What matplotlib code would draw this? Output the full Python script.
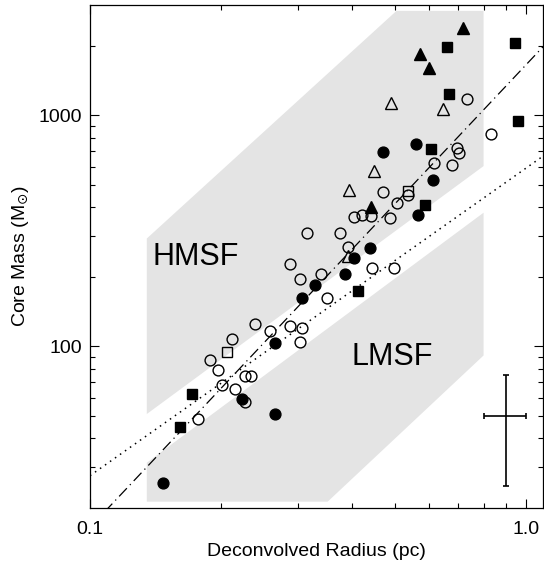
import matplotlib
matplotlib.use("Agg")
import matplotlib.pyplot as plt
from matplotlib.patches import Polygon
from matplotlib.ticker import FixedLocator, NullFormatter
import numpy as np

plt.rcParams['font.family'] = ['Liberation Sans', 'DejaVu Sans']

# core radius (pc) and mass (Msun), one pair of lists per marker style
filled_circle_r = [0.470, 0.561, 0.611, 0.567, 0.438, 0.404, 0.385, 0.328, 0.307,
                   0.266, 0.223, 0.266, 0.147]
filled_circle_m = [694, 749, 525, 369, 267, 242, 205, 184, 162, 103, 59.5, 51.1, 25.7]

filled_square_r = [0.661, 0.942, 0.665, 0.957, 0.605, 0.586, 0.411, 0.1715, 0.161]
filled_square_m = [1983, 2064, 1233, 945, 713, 411, 173, 62.4, 44.7]

filled_tri_r = [0.7185, 0.573, 0.600, 0.441]
filled_tri_m = [2397, 1837, 1598, 401]

open_tri_r = [0.4915, 0.6455, 0.449, 0.392, 0.390]
open_tri_m = [1135, 1069, 574, 474, 246]

open_square_r = [0.536, 0.2067]
open_square_m = [469, 94.5]

open_circle_r = [0.731, 0.832, 0.697, 0.7035, 0.616, 0.678, 0.471, 0.536, 0.505,
                 0.404, 0.421, 0.442, 0.488, 0.3145, 0.374, 0.390, 0.288, 0.443,
                 0.499, 0.339, 0.304, 0.349, 0.239, 0.259, 0.287, 0.307, 0.303,
                 0.2114, 0.1886, 0.1964, 0.2264, 0.2346, 0.201, 0.215, 0.227, 0.1765]
open_circle_m = [1181, 828, 725, 685, 620, 607, 467, 450, 416,
                 362, 372, 366, 359, 311, 309, 269, 227, 219,
                 218, 205, 196, 162, 124.5, 117, 123, 120, 105,
                 108, 87, 79.3, 74.2, 74.2, 68.3, 65.6, 57.4, 48.6]

# shaded regions (r, M)
hmsf_r = [0.135, 0.135, 0.505, 0.80, 0.80]
hmsf_m = [51, 293, 2830, 2830, 603]
lmsf_r = [0.135, 0.135, 0.351, 0.80, 0.80]
lmsf_m = [31.4, 21.3, 21.3, 91.4, 379]

# threshold lines: M = a * r**b
kp_a, kp_b = 590, 1.33       # dotted
sd_a, sd_b = 1650, 2.0       # dash-dot

# typical uncertainty
err_r, err_m = 0.9, 50
err_dr, err_dm = 0.1, 25

fig = plt.figure(figsize=(5.44, 5.63), dpi=100)
ax = fig.add_axes([90 / 544, 1 - 508 / 563, 453 / 544, 503 / 563])
ax.set_xscale('log')
ax.set_yscale('log')
ax.set_xlim(0.1, 1.095)
ax.set_ylim(20, 3000)

gray = '#e4e4e4'
ax.add_patch(Polygon(list(zip(hmsf_r, hmsf_m)), closed=True, fc=gray, ec='none', zorder=0))
ax.add_patch(Polygon(list(zip(lmsf_r, lmsf_m)), closed=True, fc=gray, ec='none', zorder=0))

rr = np.logspace(-1, np.log10(1.1), 200)
ax.plot(rr, kp_a * rr ** kp_b, color='k', lw=1.1, ls=(0, (1, 3)), zorder=1)
ax.plot(rr, sd_a * rr ** sd_b, color='k', lw=0.9, ls=(0, (9, 3.5, 1, 3.5)), zorder=1)

ms, mew = 7.8, 1.0
ax.plot(open_circle_r, open_circle_m, 'o', ms=ms, mfc='none', mec='k', mew=mew, zorder=3)
ax.plot(open_square_r, open_square_m, 's', ms=ms - 0.6, mfc='none', mec='k', mew=mew, zorder=3)
ax.plot(open_tri_r, open_tri_m, '^', ms=ms + 0.8, mfc='none', mec='k', mew=mew, zorder=3)
ax.plot(filled_circle_r, filled_circle_m, 'o', ms=ms, color='k', zorder=3)
ax.plot(filled_square_r, filled_square_m, 's', ms=ms - 0.6, color='k', zorder=3)
ax.plot(filled_tri_r, filled_tri_m, '^', ms=ms + 0.8, color='k', zorder=3)

ax.errorbar([err_r], [err_m], xerr=[err_dr], yerr=[err_dm], fmt='none',
            ecolor='k', elinewidth=1.2, capsize=2, capthick=1.2, zorder=3)

ax.text(0.1747, 244, 'HMSF', fontsize=22, ha='center', va='center', zorder=4)
ax.text(0.4928, 90, 'LMSF', fontsize=22, ha='center', va='center', zorder=4)

ax.xaxis.set_major_locator(FixedLocator([0.1, 1.0]))
ax.xaxis.set_minor_locator(FixedLocator([0.2, 0.3, 0.4, 0.5, 0.6, 0.7, 0.8, 0.9]))
ax.set_xticklabels(['0.1', '1.0'])
ax.xaxis.set_minor_formatter(NullFormatter())
ax.yaxis.set_major_locator(FixedLocator([100, 1000]))
ax.yaxis.set_minor_locator(FixedLocator([30, 40, 50, 60, 70, 80, 90,
                                         200, 300, 400, 500, 600, 700, 800, 900, 2000]))
ax.set_yticklabels(['100', '1000'])
ax.yaxis.set_minor_formatter(NullFormatter())

ax.tick_params(which='both', direction='in', top=True, right=True, width=0.8,
               labelsize=14, colors='k')
ax.tick_params(which='major', length=6.5)
ax.tick_params(which='minor', length=3.6)
ax.tick_params(axis='x', which='major', pad=9)
ax.tick_params(axis='y', which='major', pad=6)
for s in ax.spines.values():
    s.set_linewidth(0.9)

ax.set_xlabel('Deconvolved Radius (pc)', fontsize=14, labelpad=4)
ax.set_ylabel(r'Core Mass (M$_{\odot}$)', fontsize=14, labelpad=5)

fig.savefig('out.png', dpi=100)
